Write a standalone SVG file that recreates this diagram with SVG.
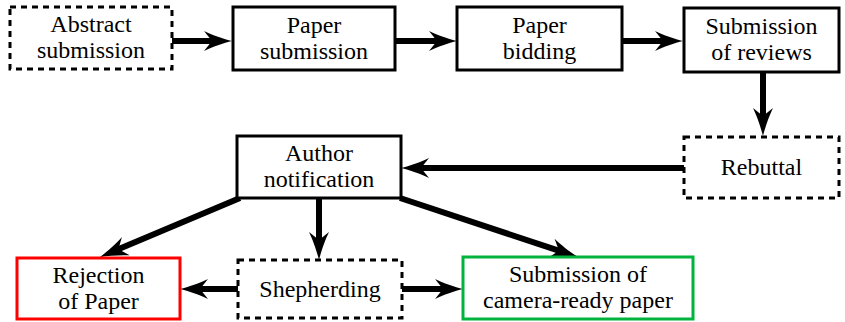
<svg xmlns="http://www.w3.org/2000/svg" width="845" height="322" viewBox="0 0 845 322">
<style>
.box{fill:#fff;stroke:#000;stroke-width:3}
.dash{fill:#fff;stroke:#000;stroke-width:3;stroke-dasharray:6 5}
.red{fill:#fff;stroke:#ff0000;stroke-width:3}
.green{fill:#fff;stroke:#00b33c;stroke-width:3}
.edge{stroke:#000;stroke-width:6;fill:none;marker-end:url(#arr)}
text{font-size:24px;text-anchor:middle;fill:#000}
</style>
<defs>
<marker id="arr" markerUnits="userSpaceOnUse" markerWidth="32" markerHeight="22" viewBox="0 -11 32 22" refX="16" refY="0" orient="auto">
<path d="M30,0 C22,-2 10,-6 2,-10 L10,0 L2,10 C10,6 22,2 30,0 Z" fill="#000"/>
</marker>
</defs>
<g id="connectors">
<line class="edge" x1="172" y1="41" x2="218" y2="41"/>
<line class="edge" x1="395" y1="41" x2="443" y2="41"/>
<line class="edge" x1="622" y1="41" x2="669" y2="41"/>
<line class="edge" x1="763" y1="72" x2="763" y2="122"/>
<line class="edge" x1="684" y1="168" x2="415" y2="168"/>
<line class="edge" x1="240" y1="198" x2="112.9" y2="251.6"/>
<line class="edge" x1="319" y1="198" x2="319" y2="246"/>
<line class="edge" x1="400" y1="198" x2="564.7" y2="252.6"/>
<line class="edge" x1="238" y1="289" x2="194" y2="289"/>
<line class="edge" x1="402" y1="289" x2="449" y2="289"/>
</g>
<g id="abstract"><rect class="dash" x="10" y="7" width="162" height="62"/><text x="91" y="32" font-family="Liberation Serif">Abstract</text><text x="91" y="58" font-family="Liberation Serif">submission</text></g>
<g id="paper-submission"><rect class="box" x="233" y="7" width="162" height="63"/><text x="314" y="33" font-family="Liberation Serif">Paper</text><text x="314" y="59" font-family="Liberation Serif">submission</text></g>
<g id="paper-bidding"><rect class="box" x="457" y="7" width="165" height="63"/><text x="539.5" y="33" font-family="Liberation Serif">Paper</text><text x="539.5" y="59" font-family="Liberation Serif">bidding</text></g>
<g id="reviews"><rect class="box" x="684" y="8" width="155" height="64"/><text x="761.5" y="34" font-family="Liberation Serif">Submission</text><text x="761.5" y="60" font-family="Liberation Serif">of reviews</text></g>
<g id="rebuttal"><rect class="dash" x="684" y="137" width="155" height="61"/><text x="761.5" y="175" font-family="Liberation Serif">Rebuttal</text></g>
<g id="author"><rect class="box" x="237" y="136" width="164" height="62"/><text x="319" y="161" font-family="Liberation Serif">Author</text><text x="319" y="187" font-family="Liberation Serif">notification</text></g>
<g id="rejection"><rect class="red" x="17" y="258" width="163" height="61"/><text x="98.5" y="283" font-family="Liberation Serif">Rejection</text><text x="98.5" y="309" font-family="Liberation Serif">of Paper</text></g>
<g id="shepherding"><rect class="dash" x="238" y="260" width="164" height="58"/><text x="320" y="297" font-family="Liberation Serif">Shepherding</text></g>
<g id="camera-ready"><rect class="green" x="463" y="257" width="230" height="62"/><text x="578" y="282" font-family="Liberation Serif">Submission of</text><text x="578" y="308" font-family="Liberation Serif">camera-ready paper</text></g>
</svg>
